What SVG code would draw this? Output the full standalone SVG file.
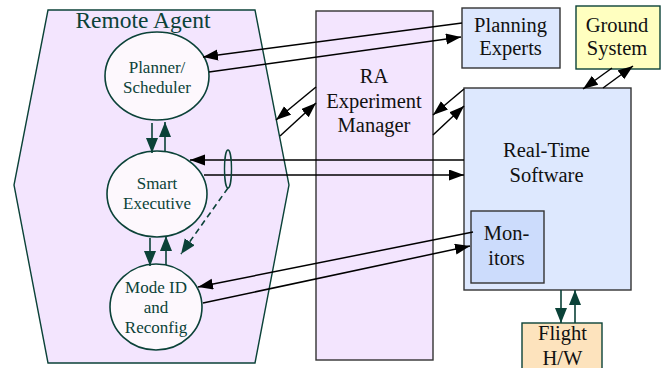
<svg xmlns="http://www.w3.org/2000/svg" width="662" height="368" viewBox="0 0 662 368">
<defs>
<style>
.t{font-family:"Liberation Serif","Times New Roman",serif;text-anchor:middle}
.tl{fill:#0b4238;font-size:17px}
.bx{font-size:20.5px;fill:#111}
.ln{stroke:#000;stroke-width:1.5;fill:none}
.tln{stroke:#0b4238;stroke-width:1.6;fill:none}
.el{fill:#fdf8fd;stroke:#0b4238;stroke-width:1.6}
</style>
<marker id="ab" markerUnits="userSpaceOnUse" markerWidth="16" markerHeight="12" refX="15" refY="5.5" orient="auto"><path d="M0,0 L15,5.5 L0,11 z" fill="#000"/></marker>
<marker id="at" markerUnits="userSpaceOnUse" markerWidth="16" markerHeight="14" refX="15" refY="6" orient="auto"><path d="M0,0 L15,6 L0,12 z" fill="#0b4238"/></marker>
</defs>
<rect width="662" height="368" fill="#fff"/>
<g id="remote-agent">
<polygon points="48,10 255,10 289,185 255,363 48,363 14,185" fill="#f3e5fe" stroke="#0b4238" stroke-width="1.4"/>
<text class="t" x="143" y="28" font-size="23.5" fill="#0b4238">Remote Agent</text>
</g>
<g id="ra-manager">
<rect x="316" y="11" width="117" height="349" fill="#f3e5fe" stroke="#333" stroke-width="1.4"/>
<text class="t bx" x="374" y="83">RA</text>
<text class="t bx" x="374" y="108">Experiment</text>
<text class="t bx" x="374" y="132">Manager</text>
</g>
<g id="planning-experts">
<rect x="462" y="8" width="98" height="60" fill="#dde8fe" stroke="#333" stroke-width="1.4"/>
<text class="t bx" x="510.5" y="32">Planning</text>
<text class="t bx" x="510.5" y="55">Experts</text>
</g>
<g id="ground-system">
<rect x="576" y="6" width="84" height="63" fill="#ffffc0" stroke="#0b4238" stroke-width="1.4"/>
<text class="t bx" x="617" y="32">Ground</text>
<text class="t bx" x="617" y="55">System</text>
</g>
<g id="real-time-software">
<rect x="464" y="88" width="167" height="202" fill="#dde8fe" stroke="#333" stroke-width="1.4"/>
<text class="t bx" x="546.5" y="157">Real-Time</text>
<text class="t bx" x="546.5" y="182">Software</text>
</g>
<g id="monitors">
<rect x="471" y="211" width="73" height="72" fill="#ccdcfc" stroke="#333" stroke-width="1.4"/>
<text class="t bx" x="506.5" y="240">Mon-</text>
<text class="t bx" x="506.5" y="265">itors</text>
</g>
<g id="flight-hw">
<rect x="522" y="323" width="80" height="50" fill="#fde3bd" stroke="#0b4238" stroke-width="1.4"/>
<text class="t bx" x="562.5" y="340">Flight</text>
<text class="t bx" x="562.5" y="365">H/W</text>
</g>
<g id="planner">
<ellipse class="el" cx="157" cy="76" rx="52" ry="44"/>
<text class="t tl" x="157" y="73">Planner/</text>
<text class="t tl" x="157" y="93">Scheduler</text>
</g>
<g id="smart-executive">
<ellipse class="el" cx="157" cy="194" rx="50" ry="43"/>
<text class="t tl" x="157" y="189">Smart</text>
<text class="t tl" x="157" y="209">Executive</text>
</g>
<g id="mode-id">
<ellipse class="el" cx="156" cy="307" rx="46" ry="43"/>
<text class="t tl" x="156" y="293">Mode ID</text>
<text class="t tl" x="156" y="313">and</text>
<text class="t tl" x="156" y="333">Reconfig</text>
</g>
<g id="connectors">
<line class="ln" x1="462" y1="23" x2="203" y2="57" marker-end="url(#ab)"/>
<line class="ln" x1="209" y1="72" x2="461" y2="37" marker-end="url(#ab)"/>
<line class="ln" x1="316" y1="87" x2="276" y2="120" marker-end="url(#ab)"/>
<line class="ln" x1="280" y1="136" x2="316" y2="103" marker-end="url(#ab)"/>
<line class="ln" x1="464" y1="89" x2="433" y2="115" marker-end="url(#ab)"/>
<line class="ln" x1="433" y1="135" x2="464" y2="106" marker-end="url(#ab)"/>
<line class="ln" x1="612" y1="68" x2="583" y2="89" marker-end="url(#ab)"/>
<line class="ln" x1="603" y1="88" x2="633" y2="66" marker-end="url(#ab)"/>
<line class="ln" x1="464" y1="160" x2="190" y2="160" marker-end="url(#ab)"/>
<line class="ln" x1="204" y1="175" x2="464" y2="175" marker-end="url(#ab)"/>
<line class="ln" x1="473" y1="232" x2="198" y2="287" marker-end="url(#ab)"/>
<line class="ln" x1="203" y1="303" x2="470" y2="246" marker-end="url(#ab)"/>
<ellipse cx="228" cy="169" rx="3.5" ry="19" fill="none" stroke="#0b4238" stroke-width="1.4"/>
<line class="tln" x1="228" y1="188" x2="181" y2="254" stroke-dasharray="6,4" marker-end="url(#at)"/>
<line class="tln" x1="152" y1="123" x2="152" y2="153" marker-end="url(#at)"/>
<line class="tln" x1="165" y1="151" x2="165" y2="122" marker-end="url(#at)"/>
<line class="tln" x1="150" y1="238" x2="150" y2="266" marker-end="url(#at)"/>
<line class="tln" x1="166" y1="265" x2="166" y2="236" marker-end="url(#at)"/>
<line class="tln" x1="561" y1="290" x2="561" y2="323" marker-end="url(#at)"/>
<line class="tln" x1="575" y1="323" x2="575" y2="290" marker-end="url(#at)"/>
</g>
</svg>
